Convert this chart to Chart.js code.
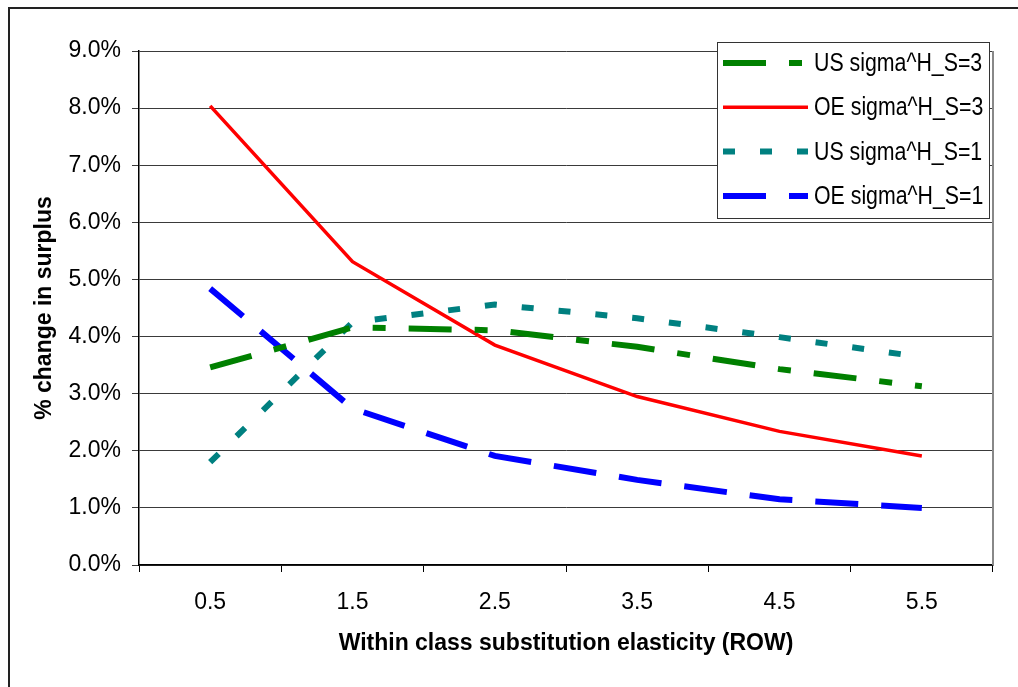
<!DOCTYPE html>
<html>
<head>
<meta charset="utf-8">
<script src="https://cdn.jsdelivr.net/npm/chart.js@4.4.1/dist/chart.umd.min.js"></script>
<style>
html, body { margin: 0; padding: 0; background: #fff; overflow: hidden; }
#frame { position: absolute; left: 8px; top: 7px; width: 1100px; height: 800px; border-left: 2px solid #222; border-top: 2px solid #222; }
#wrap { position: absolute; left: 0; top: 0; width: 1018px; height: 687px; }
</style>
</head>
<body>
<div id="frame"></div>
<div id="wrap"><canvas id="chart"></canvas></div>
<script>
// values (% change in surplus)
const categories = ['0.5', '1.5', '2.5', '3.5', '4.5', '5.5'];
const usSigma3 = [3.46, 4.16, 4.11, 3.82, 3.43, 3.13];
const oeSigma3 = [8.04, 5.31, 3.85, 2.95, 2.34, 1.91];
const usSigma1 = [1.80, 4.25, 4.56, 4.32, 3.99, 3.64];
const oeSigma1 = [4.84, 2.74, 1.91, 1.49, 1.15, 1.00];

const font = "'Liberation Sans', Arial, sans-serif";

// legend box drawn inside the plot, top right, like the Excel original
const legendBox = {
    id: 'legendBox',
    afterDatasetsDraw(chart) {
        const { ctx, chartArea } = chart;
        const w = 272, h = 176;
        const x = chartArea.right - 276, y = chartArea.top - 9;
        ctx.save();
        ctx.fillStyle = '#fff';
        ctx.fillRect(x, y, w, h);
        ctx.strokeStyle = '#333';
        ctx.lineWidth = 1;
        ctx.strokeRect(x + 0.5, y + 0.5, w, h);
        chart.data.datasets.forEach((ds, i) => {
            const cy = y + 21 + i * 44.3;
            ctx.beginPath();
            ctx.strokeStyle = ds.borderColor;
            ctx.lineWidth = ds.borderWidth;
            ctx.setLineDash(ds.borderDash || []);
            ctx.moveTo(x + 6, cy);
            ctx.lineTo(x + 91, cy);
            ctx.stroke();
            ctx.setLineDash([]);
            // narrow-looking text: squeeze horizontally
            ctx.save();
            ctx.translate(x + 97, cy + 1);
            ctx.scale(0.82, 1);
            ctx.font = '26px ' + font;
            ctx.textBaseline = 'middle';
            ctx.fillStyle = '#000';
            ctx.fillText(ds.label, 0, 0);
            ctx.restore();
        });
        ctx.restore();
    }
};

// grey right edge of the plot area
const plotEdge = {
    id: 'plotEdge',
    beforeDatasetsDraw(chart) {
        const { ctx, chartArea } = chart;
        ctx.save();
        ctx.strokeStyle = '#888';
        ctx.lineWidth = 2;
        ctx.beginPath();
        ctx.moveTo(chartArea.right, chartArea.top);
        ctx.lineTo(chartArea.right, chartArea.bottom);
        ctx.stroke();
        ctx.restore();
    }
};

new Chart(document.getElementById('chart'), {
    type: 'line',
    data: {
        labels: categories,
        datasets: [
            { label: 'US sigma^H_S=3', data: usSigma3, borderColor: '#008000', borderWidth: 6, borderDash: [43, 23, 13, 23] },
            { label: 'OE sigma^H_S=3', data: oeSigma3, borderColor: '#ff0000', borderWidth: 3.5 },
            { label: 'US sigma^H_S=1', data: usSigma1, borderColor: '#008080', borderWidth: 6, borderDash: [12, 25] },
            { label: 'OE sigma^H_S=1', data: oeSigma1, borderColor: '#0000ff', borderWidth: 6, borderDash: [43, 23] }
        ]
    },
    options: {
        responsive: true,
        maintainAspectRatio: false,
        animation: false,
        elements: {
            point: { radius: 0, hoverRadius: 0 },
            line: { tension: 0, borderCapStyle: 'butt', borderJoinStyle: 'miter' }
        },
        layout: { padding: { left: 31, top: 51, right: 25, bottom: 30 } },
        plugins: {
            legend: { display: false },
            tooltip: { enabled: false }
        },
        scales: {
            x: {
                offset: true,
                grid: { offset: true, drawOnChartArea: false, tickLength: 7, color: '#000' },
                border: { color: '#000', width: 1.5 },
                ticks: { color: '#000', padding: 17, font: { family: font, size: 23 } },
                title: {
                    display: true,
                    text: 'Within class substitution elasticity (ROW)',
                    color: '#000',
                    padding: 0,
                    font: { family: font, size: 23, weight: 'bold' }
                },
                afterFit: (scale) => { scale.height = 92; }
            },
            y: {
                min: 0,
                max: 9,
                grid: { color: '#3a3a3a', tickLength: 7 },
                border: { color: '#000', width: 1.5 },
                ticks: {
                    stepSize: 1,
                    color: '#000',
                    padding: 11,
                    font: { family: font, size: 23 },
                    callback: (value) => value.toFixed(1) + '%'
                },
                title: {
                    display: true,
                    text: '% change in surplus',
                    color: '#000',
                    padding: 0,
                    font: { family: font, size: 23, weight: 'bold' }
                },
                afterFit: (scale) => { scale.width = 108; }
            }
        }
    },
    plugins: [plotEdge, legendBox]
});
</script>
</body>
</html>
